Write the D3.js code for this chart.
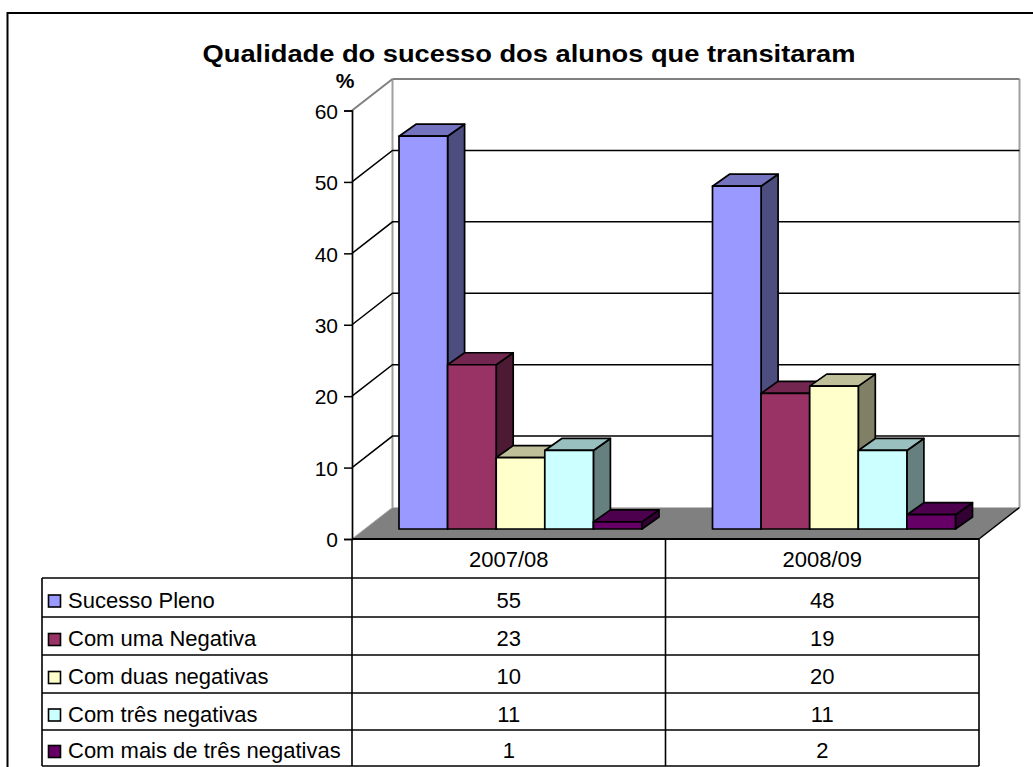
<!DOCTYPE html>
<html><head><meta charset="utf-8">
<script src="https://cdn.jsdelivr.net/npm/d3@7/dist/d3.min.js"></script>
<style>html,body{margin:0;padding:0;background:#fff;overflow:hidden}svg{display:block}text{font-family:"Liberation Sans",Arial,sans-serif;fill:#000}</style>
</head><body><svg id="c" width="1033" height="767"></svg>
<script>
const title = "Qualidade do sucesso dos alunos que transitaram";
const years = ["2007/08", "2008/09"];
const seriesNames = ["Sucesso Pleno", "Com uma Negativa", "Com duas negativas", "Com três negativas", "Com mais de três negativas"];
const values2007 = [55, 23, 10, 11, 1];
const values2008 = [48, 19, 20, 11, 2];
const fills = ["#9999ff", "#993366", "#ffffcc", "#ccffff", "#660066"];
const tops = ["#7373bf", "#732650", "#bfbf99", "#99bfbf", "#4d004d"];
const sides = ["#4d4d80", "#4d1a33", "#808066", "#668080", "#330033"];
const ticks = [0, 10, 20, 30, 40, 50, 60];

const svg = d3.select("#c");
const X0 = 352, X1 = 979, Y0 = 539, Y60 = 110.5;
const wallDX = 40.5, wallDY = -31.5;
const y = d3.scaleLinear().domain([0, 60]).range([Y0, Y60]);
const x0 = d3.scaleBand().domain(years).range([X0, X1]);
const x1 = d3.scaleBand().domain(seriesNames).range([47, 290]);
const poly = pts => pts.map(p => p.join(",")).join(" ");

// frame
svg.append("rect").attr("x", 7.5).attr("y", 13).attr("width", 1040).attr("height", 770)
  .attr("fill", "#fff").attr("stroke", "#000").attr("stroke-width", 2);

// title
svg.append("text").attr("transform", "translate(529,62) scale(1.1,1)").attr("text-anchor", "middle")
  .attr("font-size", 24.8).attr("font-weight", "bold").text(title);
svg.append("text").attr("x", 345).attr("y", 88).attr("text-anchor", "middle")
  .attr("font-size", 21).attr("font-weight", "bold").text("%");

// walls
svg.append("polygon").attr("points", poly([[X0, Y0], [X0 + wallDX, Y0 + wallDY], [X1 + wallDX, Y0 + wallDY], [X1, Y0]]))
  .attr("fill", "#808080");
svg.append("line").attr("x1", X0 + wallDX).attr("x2", X0 + wallDX).attr("y1", y(60) + wallDY).attr("y2", Y0 + wallDY).attr("stroke", "#a0a0a0").attr("stroke-width", 2);
svg.append("line").attr("x1", X1 + wallDX).attr("x2", X1 + wallDX).attr("y1", y(60) + wallDY).attr("y2", Y0 + wallDY).attr("stroke", "#a0a0a0").attr("stroke-width", 2);
svg.append("line").attr("x1", X0).attr("x2", X0 + wallDX).attr("y1", y(60)).attr("y2", y(60) + wallDY).attr("stroke", "#808080").attr("stroke-width", 2);
svg.append("line").attr("x1", X0 + wallDX).attr("x2", X1 + wallDX).attr("y1", y(60) + wallDY).attr("y2", y(60) + wallDY).attr("stroke", "#808080").attr("stroke-width", 2);
svg.append("line").attr("x1", X0).attr("x2", X0 + wallDX).attr("y1", Y0).attr("y2", Y0 + wallDY).attr("stroke", "#a0a0a0").attr("stroke-width", 1);
svg.append("line").attr("x1", X1).attr("x2", X1 + wallDX).attr("y1", Y0).attr("y2", Y0 + wallDY).attr("stroke", "#000").attr("stroke-width", 1.5);

// gridlines
ticks.filter(t => t > 0 && t < 60).forEach(t => {
  svg.append("polyline").attr("points", poly([[X0, y(t)], [X0 + wallDX, y(t) + wallDY], [X1 + wallDX, y(t) + wallDY]]))
    .attr("fill", "none").attr("stroke", "#000").attr("stroke-width", 1.5);
});

// axis
const axis = svg.append("g").attr("transform", `translate(${X0},0)`)
  .call(d3.axisLeft(y).tickValues(ticks).tickSize(8).tickPadding(6));
axis.selectAll("path").attr("stroke", "#000").attr("stroke-width", 1.7);
axis.selectAll("line").attr("stroke", "#000").attr("stroke-width", 1.5);
axis.selectAll("text").attr("font-size", 21).attr("dy", "0.37em").style("font-family", '"Liberation Sans",Arial,sans-serif');

// bars
const baseUp = 10, depthX = 17, depthY = -12;
const bar = (cat, name, v, i) => {
  const xl = x0(cat) + x1(name), xr = xl + x1.bandwidth();
  const yb = y(0) - baseUp, yt = y(v) - baseUp;
  const g = svg.append("g").attr("stroke", "#000").attr("stroke-width", 1.7).attr("stroke-linejoin", "round");
  g.append("polygon").attr("points", poly([[xr, yt], [xr + depthX, yt + depthY], [xr + depthX, yb + depthY], [xr, yb]])).attr("fill", sides[i]);
  g.append("polygon").attr("points", poly([[xl, yt], [xl + depthX, yt + depthY], [xr + depthX, yt + depthY], [xr, yt]])).attr("fill", tops[i]);
  g.append("rect").attr("x", xl).attr("y", yt).attr("width", xr - xl).attr("height", yb - yt).attr("fill", fills[i]);
};
seriesNames.forEach((s, i) => bar(years[0], s, values2007[i], i));
seriesNames.forEach((s, i) => bar(years[1], s, values2008[i], i));

// data table
const rowYs = [539, 578, 617, 655, 693, 730, 766];
const tableLeft = 42;
const tbl = svg.append("g").attr("stroke", "#000").attr("stroke-width", 1.6);
rowYs.forEach((ry, i) => {
  tbl.append("line").attr("x1", i === 0 ? X0 : tableLeft).attr("x2", X1).attr("y1", ry).attr("y2", ry);
});
tbl.select("line").attr("stroke-width", 2);
[X0, x0(years[1]), X1].forEach(vx => tbl.append("line").attr("x1", vx).attr("x2", vx).attr("y1", 539).attr("y2", 766));
tbl.append("line").attr("x1", tableLeft).attr("x2", tableLeft).attr("y1", rowYs[1]).attr("y2", 766);

years.forEach(yr => svg.append("text").attr("x", x0(yr) + x0.bandwidth() / 2).attr("y", 566.5).attr("text-anchor", "middle").attr("font-size", 22).text(yr));
seriesNames.forEach((s, i) => {
  const cy = (rowYs[i + 1] + rowYs[i + 2]) / 2;
  svg.append("rect").attr("x", 48.5).attr("y", cy - 2.5).attr("width", 12).attr("height", 12).attr("fill", fills[i]).attr("stroke", "#000").attr("stroke-width", 1.6);
  svg.append("text").attr("x", 68).attr("y", cy + 10).attr("font-size", 22).text(s);
  svg.append("text").attr("x", x0(years[0]) + x0.bandwidth() / 2).attr("y", cy + 10).attr("text-anchor", "middle").attr("font-size", 22).text(values2007[i]);
  svg.append("text").attr("x", x0(years[1]) + x0.bandwidth() / 2).attr("y", cy + 10).attr("text-anchor", "middle").attr("font-size", 22).text(values2008[i]);
});
</script></body></html>
